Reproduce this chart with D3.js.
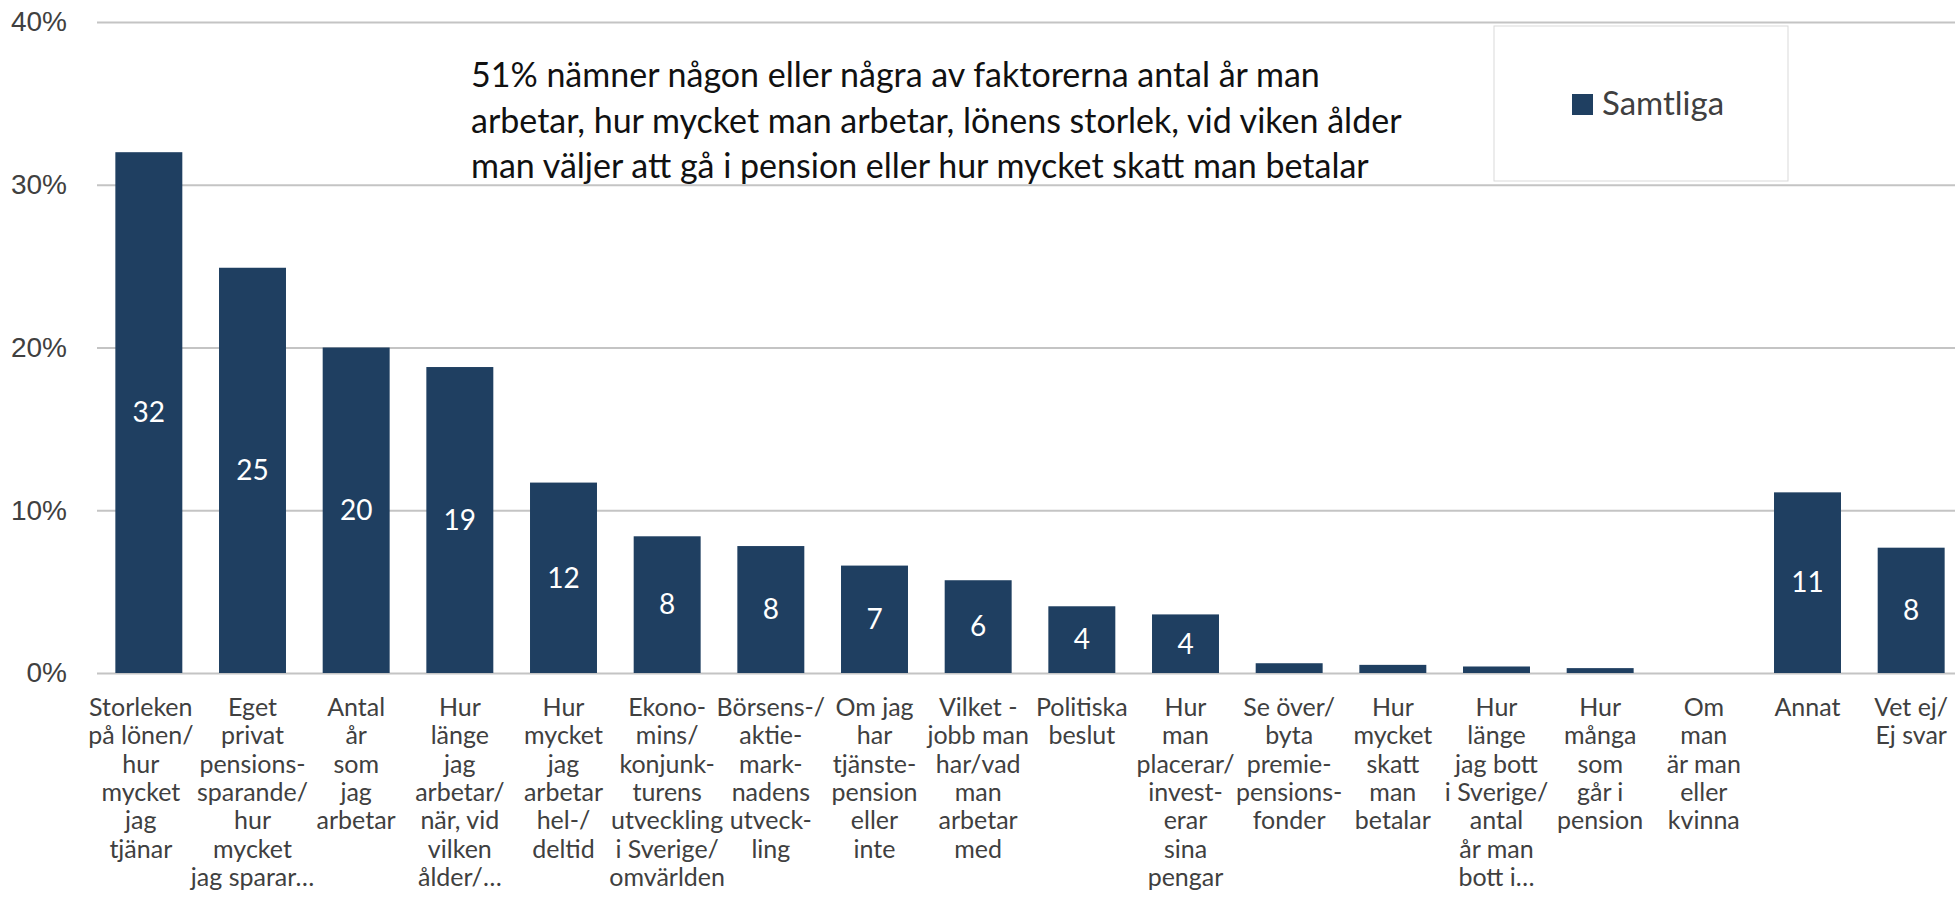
<!DOCTYPE html>
<html>
<head>
<meta charset="utf-8">
<script src="https://cdn.jsdelivr.net/npm/d3@7"></script>
<style>
  html, body { margin: 0; padding: 0; background: #fff; }
  svg { display: block; font-family: "Gill Sans", "Gill Sans MT", Lato, sans-serif; }
</style>
</head>
<body>
<div id="chart"></div>
<script>
// categories, one array of lines per bar (wrapped as in the original)
const categories = [
  ["Storleken", "på lönen/", "hur", "mycket", "jag", "tjänar"],
  ["Eget", "privat", "pensions-", "sparande/", "hur", "mycket", "jag sparar…"],
  ["Antal", "år", "som", "jag", "arbetar"],
  ["Hur", "länge", "jag", "arbetar/", "när, vid", "vilken", "ålder/…"],
  ["Hur", "mycket", "jag", "arbetar", "hel-/", "deltid"],
  ["Ekono-", "mins/", "konjunk-", "turens", "utveckling", "i Sverige/", "omvärlden"],
  ["Börsens-/", "aktie-", "mark-", "nadens", "utveck-", "ling"],
  ["Om jag", "har", "tjänste-", "pension", "eller", "inte"],
  ["Vilket -", "jobb man", "har/vad", "man", "arbetar", "med"],
  ["Politiska", "beslut"],
  ["Hur", "man", "placerar/", "invest-", "erar", "sina", "pengar"],
  ["Se över/", "byta", "premie-", "pensions-", "fonder"],
  ["Hur", "mycket", "skatt", "man", "betalar"],
  ["Hur", "länge", "jag bott", "i Sverige/", "antal", "år man", "bott i…"],
  ["Hur", "många", "som", "går i", "pension"],
  ["Om", "man", "är man", "eller", "kvinna"],
  ["Annat"],
  ["Vet ej/", "Ej svar"]
];

// Samtliga, percent
const values = [32.0, 24.9, 20.0, 18.8, 11.7, 8.4, 7.8, 6.6, 5.7, 4.1, 3.6, 0.6, 0.5, 0.4, 0.3, 0, 11.1, 7.7];

const seriesName = "Samtliga";
const yTicks = [0, 10, 20, 30, 40];

const note = [
  "51% nämner någon eller några av faktorerna antal år man",
  "arbetar, hur mycket man arbetar, lönens storlek, vid viken ålder",
  "man väljer att gå i pension eller hur mycket skatt man betalar"
];

const width = 1955;
const height = 907;
const margin = { top: 22, right: -8, bottom: 234, left: 97 };
const barColor = "#1f3f61";
const textColor = "#404040";

const svg = d3.select("#chart")
  .append("svg")
  .attr("width", width)
  .attr("height", height);

const x = d3.scaleBand()
  .domain(d3.range(categories.length))
  .range([margin.left, width - margin.right])
  .paddingInner(0.354)
  .paddingOuter(0.177);

const y = d3.scaleLinear()
  .domain([0, 40])
  .range([height - margin.bottom, margin.top]);

// gridlines + y tick labels
const yAxis = svg.append("g")
  .attr("transform", `translate(${margin.left},0)`)
  .call(d3.axisLeft(y)
    .tickValues(yTicks)
    .tickSize(-(width - margin.right - margin.left))
    .tickPadding(30)
    .tickFormat(d => d + "%"));
yAxis.select(".domain").remove();
yAxis.selectAll(".tick line")
  .attr("stroke", "#c4c4c4")
  .attr("stroke-width", 2);
yAxis.selectAll(".tick text")
  .attr("fill", textColor)
  .style("font-size", "28px")
  .style("font-family", "inherit");

// bars
svg.append("g")
  .selectAll("rect")
  .data(values)
  .join("rect")
  .attr("x", (d, i) => x(i))
  .attr("y", d => y(d))
  .attr("width", x.bandwidth())
  .attr("height", d => y(0) - y(d))
  .attr("fill", barColor);

// value labels inside bars
svg.append("g")
  .selectAll("text")
  .data(values.map((v, i) => ({ v, i })).filter(d => d.v >= 1))
  .join("text")
  .attr("x", d => x(d.i) + x.bandwidth() / 2)
  .attr("y", d => (y(d.v) + y(0)) / 2)
  .attr("dy", "0.35em")
  .attr("text-anchor", "middle")
  .attr("fill", "#fff")
  .style("font-size", "28px")
  .text(d => Math.round(d.v));

// category labels (first one nudged left like the original)
const catG = svg.append("g");
categories.forEach((lines, i) => {
  const cx = x(i) + x.bandwidth() / 2 - (i === 0 ? 8 : 0);
  const t = catG.append("text")
    .attr("text-anchor", "middle")
    .attr("fill", textColor)
    .style("font-size", "25px");
  lines.forEach((line, k) => {
    t.append("tspan")
      .attr("x", cx)
      .attr("y", y(0) + 43 + k * 28.3)
      .text(line);
  });
});

// note text
const noteT = svg.append("text")
  .attr("fill", "#111")
  .style("font-size", "34px");
note.forEach((line, k) => {
  noteT.append("tspan")
    .attr("x", 471)
    .attr("y", 87 + k * 45.5)
    .text(line);
});

// legend
const legend = svg.append("g");
legend.append("rect")
  .attr("x", 1494)
  .attr("y", 26)
  .attr("width", 294)
  .attr("height", 155)
  .attr("fill", "#fff")
  .attr("stroke", "#d9d9d9")
  .attr("stroke-width", 1);
legend.append("rect")
  .attr("x", 1572)
  .attr("y", 94)
  .attr("width", 21)
  .attr("height", 21)
  .attr("fill", barColor);
legend.append("text")
  .attr("x", 1602)
  .attr("y", 115)
  .attr("fill", textColor)
  .style("font-size", "33px")
  .text(seriesName);
</script>
</body>
</html>
